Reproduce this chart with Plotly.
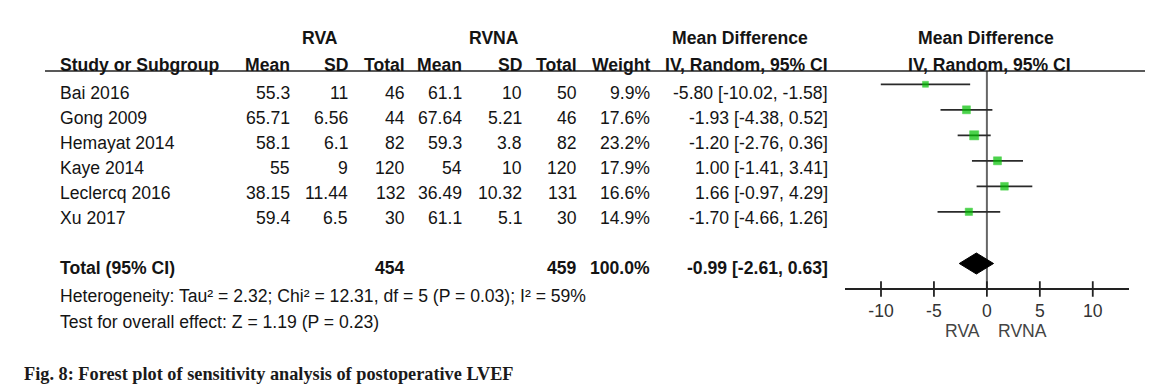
import plotly.graph_objects as go

# ---------------- data ----------------
studies = ["Bai 2016", "Gong 2009", "Hemayat 2014", "Kaye 2014", "Leclercq 2016", "Xu 2017"]
rva_mean = [55.3, 65.71, 58.1, 55, 38.15, 59.4]
rva_sd = [11, 6.56, 6.1, 9, 11.44, 6.5]
rva_total = [46, 44, 82, 120, 132, 30]
rvna_mean = [61.1, 67.64, 59.3, 54, 36.49, 61.1]
rvna_sd = [10, 5.21, 3.8, 10, 10.32, 5.1]
rvna_total = [50, 46, 82, 120, 131, 30]
weight = [9.9, 17.6, 23.2, 17.9, 16.6, 14.9]
md = [-5.80, -1.93, -1.20, 1.00, 1.66, -1.70]
ci_lo = [-10.02, -4.38, -2.76, -1.41, -0.97, -4.66]
ci_hi = [-1.58, 0.52, 0.36, 3.41, 4.29, 1.26]

pooled_md = -0.99
pooled_lo = -2.61
pooled_hi = 0.63
total_rva = 454
total_rvna = 459
total_weight = "100.0%"

heterogeneity = "Heterogeneity: Tau² = 2.32; Chi² = 12.31, df = 5 (P = 0.03); I² = 59%"
overall = "Test for overall effect: Z = 1.19 (P = 0.23)"
caption = "Fig. 8: Forest plot of sensitivity analysis of postoperative LVEF"

tick_vals = [-10, -5, 0, 5, 10]
tick_text = [f"{v:g}" for v in tick_vals]
favours_left = "RVA"
favours_right = "RVNA"

# ---------------- layout helpers ----------------
W, H = 1153, 390
FONT = "Liberation Sans, Arial, sans-serif"
TXT = "#141414"
FS = 17.6


def px(x):
    return x / W


def py(y):
    return 1 - y / H


annotations = []


def text(x, y, s, anchor="left", bold=False, color=TXT, size=FS, family=FONT):
    if bold:
        s = "<b>" + s + "</b>"
    annotations.append(dict(
        x=px(x), y=py(y), xref="paper", yref="paper", text=s, showarrow=False,
        xanchor=anchor, yanchor="middle", font=dict(family=family, size=size, color=color),
    ))


# table columns (right edges, px)
cols = {"rm": 292, "rs": 350, "rt": 407, "nm": 464, "ns": 524, "nt": 579, "w": 652, "ci": 830}
STUDY_X = 58

# headers
text(320, 38, "RVA", "center", True)
text(494, 38, "RVNA", "center", True)
text(740, 38, "Mean Difference", "center", True)
text(986, 38, "Mean Difference", "center", True)
hy = 65
text(STUDY_X, hy, "Study or Subgroup", "left", True)
text(cols["rm"], hy, "Mean", "right", True)
text(cols["rs"], hy, "SD", "right", True)
text(cols["rt"], hy, "Total", "right", True)
text(cols["nm"], hy, "Mean", "right", True)
text(cols["ns"], hy, "SD", "right", True)
text(cols["nt"], hy, "Total", "right", True)
text(cols["w"], hy, "Weight", "right", True)
text(cols["ci"], hy, "IV, Random, 95% CI", "right", True)
text(989, hy, "IV, Random, 95% CI", "center", True)

# rows
ROW0, ROWSTEP = 93, 25
for i, s in enumerate(studies):
    y = ROW0 + ROWSTEP * i
    text(STUDY_X, y, s)
    text(cols["rm"], y, f"{rva_mean[i]:g}", "right")
    text(cols["rs"], y, f"{rva_sd[i]:g}", "right")
    text(cols["rt"], y, f"{rva_total[i]}", "right")
    text(cols["nm"], y, f"{rvna_mean[i]:g}", "right")
    text(cols["ns"], y, f"{rvna_sd[i]:g}", "right")
    text(cols["nt"], y, f"{rvna_total[i]}", "right")
    text(cols["w"], y, f"{weight[i]:.1f}%", "right")
    text(cols["ci"], y, f"{md[i]:.2f} [{ci_lo[i]:.2f}, {ci_hi[i]:.2f}]", "right")

ty = 268
text(STUDY_X, ty, "Total (95% CI)", "left", True)
text(cols["rt"], ty, f"{total_rva}", "right", True)
text(cols["nt"], ty, f"{total_rvna}", "right", True)
text(cols["w"], ty, total_weight, "right", True)
text(cols["ci"], ty, f"{pooled_md:.2f} [{pooled_lo:.2f}, {pooled_hi:.2f}]", "right", True)

text(STUDY_X, 296, heterogeneity)
text(STUDY_X, 322, overall)
text(22, 374, caption, "left", True, color="#1a1a1a", size=18.3,
     family="Liberation Serif, Times New Roman, serif")

# ---------------- forest plot ----------------
# forest y units: row index; pixel = 84.3 + 25.5 * index
FY0, FYS = 84.3, 25.5


def yrow(p):
    return (p - FY0) / FYS


y_top = yrow(0)
y_bot = yrow(H)
diamond_y = yrow(263.5)
axis_y = yrow(289)
line_top = yrow(71)

X_L, X_R = 845, 1129.3
x_range = [-13.4, 13.45]

fig = go.Figure()

# zero line
fig.add_trace(go.Scatter(x=[0, 0], y=[line_top, axis_y], mode="lines",
                         line=dict(color="#666666", width=2), hoverinfo="skip", showlegend=False))

# CI lines
for i in range(len(studies)):
    fig.add_trace(go.Scatter(x=[ci_lo[i], ci_hi[i]], y=[i, i], mode="lines",
                             line=dict(color="#2a2a2a", width=1.8), hoverinfo="skip", showlegend=False))

# squares
fig.add_trace(go.Scatter(
    x=md, y=list(range(len(studies))), mode="markers",
    marker=dict(symbol="square", size=[1.9 * w ** 0.5 for w in weight], color="#00c000",
                line=dict(color="#00c000", width=0.5)),
    hoverinfo="skip", showlegend=False))

# diamond
dh = 10.5 / FYS
fig.add_trace(go.Scatter(
    x=[pooled_lo, pooled_md, pooled_hi, pooled_md, pooled_lo],
    y=[diamond_y, diamond_y - dh, diamond_y, diamond_y + dh, diamond_y],
    mode="lines", fill="toself", fillcolor="#000000", line=dict(color="#000000", width=1),
    hoverinfo="skip", showlegend=False))

# crossing tick marks
fig.add_trace(go.Scatter(
    x=tick_vals, y=[axis_y] * len(tick_vals), mode="markers",
    marker=dict(symbol="line-ns", size=11, line=dict(color="#222222", width=1.8)),
    hoverinfo="skip", showlegend=False))

# favours labels
annotations.append(dict(x=-0.45, y=py(331), xref="x", yref="paper", text=favours_left, showarrow=False,
                        xanchor="right", yanchor="middle", font=dict(family=FONT, size=FS, color="#444444")))
annotations.append(dict(x=0.85, y=py(331), xref="x", yref="paper", text=favours_right, showarrow=False,
                        xanchor="left", yanchor="middle", font=dict(family=FONT, size=FS, color="#444444")))

shapes = [dict(type="line", xref="paper", yref="paper", x0=px(45), x1=px(1145), y0=py(71), y1=py(71),
               line=dict(color="#222222", width=1.6))]

fig.update_layout(
    width=W, height=H, margin=dict(l=0, r=0, t=0, b=0),
    paper_bgcolor="white", plot_bgcolor="rgba(0,0,0,0)",
    font=dict(family=FONT, size=FS, color=TXT),
    xaxis=dict(domain=[px(X_L), px(X_R)], range=x_range, anchor="free", position=py(289),
               showline=True, linecolor="#222222", linewidth=1.8, showgrid=False, zeroline=False,
               tickvals=tick_vals, ticktext=tick_text, ticks="", ticklabelstandoff=6,
               tickfont=dict(family=FONT, size=FS, color="#333333")),
    yaxis=dict(domain=[0, 1], range=[y_bot, y_top], visible=False, showgrid=False, zeroline=False),
    annotations=annotations, shapes=shapes,
)

fig.write_html("out.html", config={"displayModeBar": False},
               post_script="document.body.style.margin='0';document.body.style.overflow='hidden';")
